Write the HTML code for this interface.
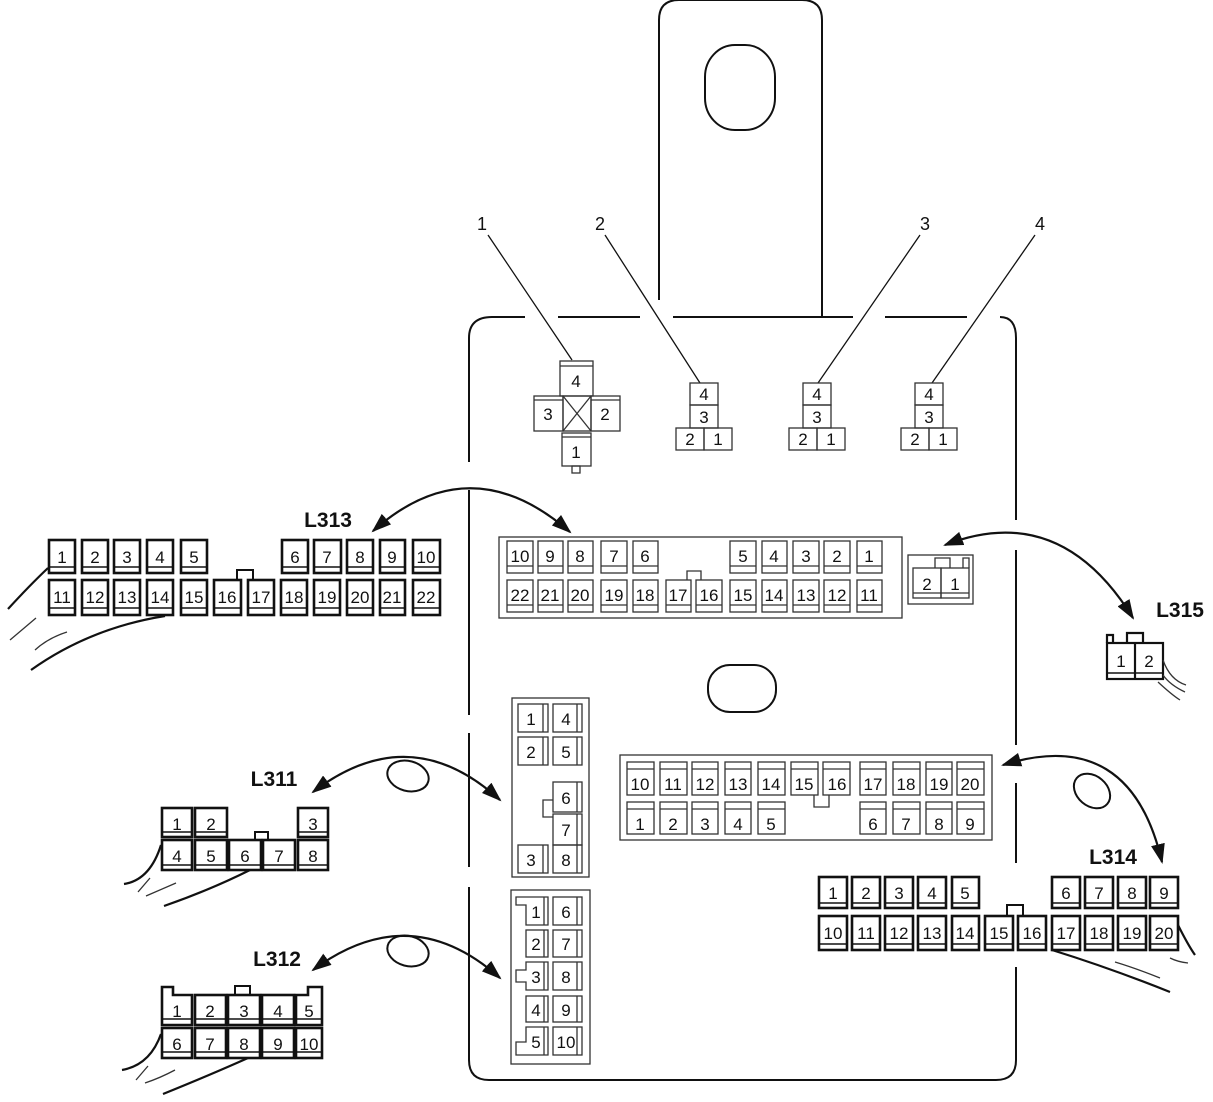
<!DOCTYPE html>
<html><head><meta charset="utf-8"><style>
body{margin:0;background:#fff}
svg{display:block}
text{font-family:"Liberation Sans",sans-serif;font-size:17px;text-anchor:middle;fill:#111}
.t{fill:none;stroke:#333;stroke-width:1.3}
.m{fill:none;stroke:#111;stroke-width:2.6}
.l{fill:none;stroke:#111;stroke-width:1.4}
.w{fill:none;stroke:#111;stroke-width:2.2}
.lb{font-weight:bold;font-size:21px}
</style></head><body>
<svg width="1213" height="1102" viewBox="0 0 1213 1102" xmlns="http://www.w3.org/2000/svg">
<defs><marker id="ah" markerWidth="20" markerHeight="14" refX="18" refY="7" orient="auto-start-reverse" markerUnits="userSpaceOnUse"><path d="M0,0 L20,7 L0,14 Z" fill="#111"/></marker></defs>

<!-- tab -->
<path class="l" d="M659,300 V20 Q659,0 679,0 H802 Q822,0 822,20 V317" style="stroke-width:2"/>
<rect class="l" x="705" y="45" width="70" height="85" rx="30" ry="32" style="stroke-width:2"/>
<!-- board outline -->
<g class="l" style="stroke-width:2">
<path d="M469,462 V338 Q469,317 492,317 H525"/>
<path d="M558,317 H640"/><path d="M673,317 H853"/><path d="M885,317 H967"/>
<path d="M1000,317 Q1016,317 1016,338 V520"/>
<path d="M469,490 V715"/><path d="M469,733 V867"/>
<path d="M469,887 V1060 Q469,1080 489,1080 H996 Q1016,1080 1016,1060 V967"/>
<path d="M1016,550 V745"/><path d="M1016,783 V863"/>
</g>
<rect class="l" x="708" y="665" width="68" height="47" rx="22" ry="22" style="stroke-width:2"/>

<!-- leaders -->
<g class="t" style="stroke:#111">
<line x1="488" y1="235" x2="572" y2="360"/>
<line x1="605" y1="235" x2="700" y2="383"/>
<line x1="920" y1="235" x2="818" y2="383"/>
<line x1="1035" y1="235" x2="932" y2="383"/>
</g>
<text x="482" y="230" style="font-size:18px">1</text>
<text x="600" y="230" style="font-size:18px">2</text>
<text x="925" y="230" style="font-size:18px">3</text>
<text x="1040" y="230" style="font-size:18px">4</text>

<!-- connector 1 -->
<g class="t">
<rect x="560" y="361" width="33" height="35"/><line x1="560" y1="366" x2="593" y2="366"/>
<rect x="534" y="396" width="29" height="35"/><line x1="534" y1="400" x2="563" y2="400"/>
<rect x="591" y="396" width="29" height="35"/><line x1="591" y1="400" x2="620" y2="400"/>
<rect x="563" y="396" width="28" height="35"/><line x1="563" y1="396" x2="591" y2="431"/><line x1="591" y1="396" x2="563" y2="431"/>
<rect x="562" y="433" width="29" height="33"/><line x1="562" y1="437" x2="591" y2="437"/>
<rect x="572" y="466" width="8" height="7"/>
</g>
<text x="576" y="387">4</text><text x="548" y="420">3</text><text x="605" y="420">2</text><text x="576" y="458">1</text>
<!-- connectors 2,3,4 -->
<g class="t">
<rect x="690" y="383" width="28" height="22"/><rect x="690" y="405" width="28" height="23"/><rect x="676" y="428" width="28" height="22"/><rect x="704" y="428" width="28" height="22"/>
<rect x="803" y="383" width="28" height="22"/><rect x="803" y="405" width="28" height="23"/><rect x="789" y="428" width="28" height="22"/><rect x="817" y="428" width="28" height="22"/>
<rect x="915" y="383" width="28" height="22"/><rect x="915" y="405" width="28" height="23"/><rect x="901" y="428" width="28" height="22"/><rect x="929" y="428" width="28" height="22"/>
</g>
<g style="font-size:15px">
<text x="704" y="400">4</text><text x="704" y="423">3</text><text x="690" y="445">2</text><text x="718" y="445">1</text>
<text x="817" y="400">4</text><text x="817" y="423">3</text><text x="803" y="445">2</text><text x="831" y="445">1</text>
<text x="929" y="400">4</text><text x="929" y="423">3</text><text x="915" y="445">2</text><text x="943" y="445">1</text>
</g>

<!-- L313 board -->
<rect class="t" x="499" y="537" width="403" height="81"/>
<g class="t">
<rect x="507" y="541" width="26" height="32"/><rect x="538" y="541" width="25" height="32"/><rect x="568" y="541" width="25" height="32"/><rect x="601" y="541" width="26" height="32"/><rect x="633" y="541" width="25" height="32"/>
<rect x="730" y="541" width="26" height="32"/><rect x="762" y="541" width="25" height="32"/><rect x="793" y="541" width="26" height="32"/><rect x="824" y="541" width="26" height="32"/><rect x="857" y="541" width="25" height="32"/>
<path d="M507,566H533M538,566H563M568,566H593M601,566H627M633,566H658M730,566H756M762,566H787M793,566H819M824,566H850M857,566H882"/>
<rect x="507" y="580" width="26" height="32"/><rect x="538" y="580" width="25" height="32"/><rect x="568" y="580" width="25" height="32"/><rect x="601" y="580" width="26" height="32"/><rect x="633" y="580" width="25" height="32"/><rect x="666" y="580" width="25" height="32"/><rect x="696" y="580" width="26" height="32"/><rect x="730" y="580" width="26" height="32"/><rect x="762" y="580" width="25" height="32"/><rect x="793" y="580" width="26" height="32"/><rect x="824" y="580" width="26" height="32"/><rect x="857" y="580" width="25" height="32"/>
<path d="M507,605H533M538,605H563M568,605H593M601,605H627M633,605H658M666,605H691M696,605H722M730,605H756M762,605H787M793,605H819M824,605H850M857,605H882"/>
<path d="M687,580V571H701V580"/>
</g>
<g>
<text x="520" y="562">10</text><text x="550" y="562">9</text><text x="580" y="562">8</text><text x="614" y="562">7</text><text x="645" y="562">6</text>
<text x="743" y="562">5</text><text x="774" y="562">4</text><text x="806" y="562">3</text><text x="837" y="562">2</text><text x="869" y="562">1</text>
<text x="520" y="601">22</text><text x="550" y="601">21</text><text x="580" y="601">20</text><text x="614" y="601">19</text><text x="645" y="601">18</text><text x="678" y="601">17</text><text x="709" y="601">16</text><text x="743" y="601">15</text><text x="774" y="601">14</text><text x="806" y="601">13</text><text x="837" y="601">12</text><text x="869" y="601">11</text>
</g>

<!-- L313 male -->
<text class="lb" x="328" y="527">L313</text>
<g class="m">
<rect x="49" y="540" width="26" height="33"/><rect x="82" y="540" width="26" height="33"/><rect x="114" y="540" width="26" height="33"/><rect x="147" y="540" width="26" height="33"/><rect x="181" y="540" width="26" height="33"/>
<rect x="282" y="540" width="26" height="33"/><rect x="314" y="540" width="27" height="33"/><rect x="347" y="540" width="26" height="33"/><rect x="380" y="540" width="25" height="33"/><rect x="413" y="540" width="27" height="33"/>
<rect x="49" y="580" width="26" height="35"/><rect x="82" y="580" width="26" height="35"/><rect x="114" y="580" width="26" height="35"/><rect x="147" y="580" width="26" height="35"/><rect x="181" y="580" width="26" height="35"/><rect x="214" y="580" width="27" height="35"/><rect x="248" y="580" width="26" height="35"/><rect x="281" y="580" width="26" height="35"/><rect x="314" y="580" width="26" height="35"/><rect x="347" y="580" width="26" height="35"/><rect x="380" y="580" width="25" height="35"/><rect x="413" y="580" width="27" height="35"/>
<path d="M237,580V570H253V580" style="stroke-width:2"/>
</g>
<path class="l" d="M49,567H75M82,567H108M114,567H140M147,567H173M181,567H207M282,567H308M314,567H341M347,567H373M380,567H405M413,567H440M49,608H75M82,608H108M114,608H140M147,608H173M181,608H207M214,608H241M248,608H274M281,608H307M314,608H340M347,608H373M380,608H405M413,608H440"/>
<g>
<text x="62" y="563">1</text><text x="95" y="563">2</text><text x="127" y="563">3</text><text x="160" y="563">4</text><text x="194" y="563">5</text><text x="295" y="563">6</text><text x="327" y="563">7</text><text x="360" y="563">8</text><text x="392" y="563">9</text><text x="426" y="563">10</text>
<text x="62" y="603">11</text><text x="95" y="603">12</text><text x="127" y="603">13</text><text x="160" y="603">14</text><text x="194" y="603">15</text><text x="227" y="603">16</text><text x="261" y="603">17</text><text x="294" y="603">18</text><text x="327" y="603">19</text><text x="360" y="603">20</text><text x="392" y="603">21</text><text x="426" y="603">22</text>
</g>
<path class="w" d="M48,568 Q30,585 8,609"/>
<path class="t" d="M10,640 L36,618 M35,650 Q48,638 67,632"/>
<path class="w" d="M31,670 Q90,628 165,616"/>
<path class="w" d="M373,531 Q470,445 570,532" marker-start="url(#ah)" marker-end="url(#ah)"/>

<!-- L315 -->
<g class="t">
<rect x="908" y="555" width="65" height="49"/>
<rect x="913" y="568" width="28" height="30"/><rect x="941" y="568" width="28" height="30"/>
<path d="M913,593H969M935,568V558H950V568M963,568V558H969V568"/>
</g>
<text x="927" y="590">2</text><text x="955" y="590">1</text>
<text class="lb" x="1180" y="617">L315</text>
<g class="m" style="stroke-width:2.2">
<rect x="1107" y="643" width="56" height="36"/><line x1="1135" y1="643" x2="1135" y2="679"/>
<path d="M1107,643V635H1113V643M1127,643V633H1143V643"/>
</g>
<path class="l" d="M1107,673H1163"/>
<text x="1121" y="667">1</text><text x="1149" y="667">2</text>
<path class="t" d="M1163,660 Q1170,680 1186,685 M1158,682 Q1172,695 1180,700 M1163,675 Q1170,685 1185,692"/>
<path class="w" d="M945,545 Q1060,500 1133,618" marker-start="url(#ah)" marker-end="url(#ah)"/>

<!-- L311 board -->
<rect class="t" x="512" y="698" width="77" height="179"/>
<g class="t">
<rect x="518" y="704" width="30" height="28"/><rect x="553" y="704" width="29" height="28"/>
<rect x="518" y="737" width="30" height="28"/><rect x="553" y="737" width="29" height="28"/>
<rect x="553" y="782" width="29" height="30"/><rect x="553" y="814" width="29" height="31"/>
<rect x="518" y="845" width="30" height="28"/><rect x="553" y="845" width="29" height="28"/>
<path d="M543,704V732M577,704V732M543,737V765M577,737V765M577,782V812M577,814V845M543,845V873M577,845V873M553,800H543V817H553"/>
</g>
<text x="531" y="725">1</text><text x="566" y="725">4</text><text x="531" y="758">2</text><text x="566" y="758">5</text><text x="566" y="804">6</text><text x="566" y="836">7</text><text x="531" y="866">3</text><text x="566" y="866">8</text>

<!-- L312 board -->
<rect class="t" x="511" y="890" width="79" height="174"/>
<g class="t">
<path d="M526,897H548V925H526V905H516V897Z"/><rect x="553" y="897" width="29" height="28"/>
<rect x="526" y="930" width="22" height="27"/><rect x="553" y="930" width="29" height="27"/>
<path d="M526,962H548V990H526V982H516V970H526Z"/><rect x="553" y="962" width="29" height="28"/>
<rect x="526" y="996" width="22" height="26"/><rect x="553" y="996" width="29" height="26"/>
<path d="M526,1027H548V1055H516V1042H526Z"/><rect x="553" y="1027" width="29" height="28"/>
<path d="M544,897V925M577,897V925M544,930V957M577,930V957M544,962V990M577,962V990M544,996V1022M577,996V1022M544,1027V1055M577,1027V1055"/>
</g>
<text x="536" y="918">1</text><text x="566" y="918">6</text><text x="536" y="950">2</text><text x="566" y="950">7</text><text x="536" y="983">3</text><text x="566" y="983">8</text><text x="536" y="1016">4</text><text x="566" y="1016">9</text><text x="536" y="1048">5</text><text x="566" y="1048">10</text>

<!-- L311 male -->
<text class="lb" x="274" y="786">L311</text>
<g class="m">
<rect x="162" y="808" width="30" height="29"/><rect x="195" y="808" width="32" height="29"/><rect x="298" y="808" width="30" height="29"/>
<rect x="162" y="840" width="30" height="30"/><rect x="195" y="840" width="32" height="30"/><rect x="229" y="840" width="32" height="30"/><rect x="263" y="840" width="32" height="30"/><rect x="298" y="840" width="30" height="30"/>
<path d="M255,840V832H268V840" style="stroke-width:2"/>
</g>
<path class="l" d="M162,832H192M195,832H227M298,832H328M162,865H192M195,865H227M229,865H261M263,865H295M298,865H328"/>
<text x="177" y="830">1</text><text x="211" y="830">2</text><text x="313" y="830">3</text>
<text x="177" y="862">4</text><text x="211" y="862">5</text><text x="245" y="862">6</text><text x="279" y="862">7</text><text x="313" y="862">8</text>
<path class="w" d="M161,845 Q150,880 124,884"/>
<path class="t" d="M138,892 L150,878 M146,896 Q160,890 176,883"/>
<path class="w" d="M164,906 Q210,890 250,870"/>
<ellipse class="w" cx="408" cy="776" rx="21" ry="15" transform="rotate(15 408 776)" style="stroke-width:2"/>
<path class="w" d="M313,792 Q410,718 500,800" marker-start="url(#ah)" marker-end="url(#ah)"/>

<!-- L312 male -->
<text class="lb" x="277" y="966">L312</text>
<g class="m">
<path d="M162,987H173V995H192V1025H162Z"/><rect x="195" y="995" width="31" height="30"/><rect x="228" y="995" width="32" height="30"/><rect x="262" y="995" width="32" height="30"/><path d="M296,1025V995H308V987H322V1025Z"/>
<path d="M235,995V986H250V995" style="stroke-width:2"/>
<rect x="162" y="1028" width="30" height="30"/><rect x="195" y="1028" width="31" height="30"/><rect x="228" y="1028" width="32" height="30"/><rect x="262" y="1028" width="32" height="30"/><rect x="296" y="1028" width="26" height="30"/>
</g>
<path class="l" d="M162,1019H192M195,1019H226M228,1019H260M262,1019H294M296,1019H322M162,1052H192M195,1052H226M228,1052H260M262,1052H294M296,1052H322"/>
<text x="177" y="1017">1</text><text x="210" y="1017">2</text><text x="244" y="1017">3</text><text x="278" y="1017">4</text><text x="309" y="1017">5</text>
<text x="177" y="1050">6</text><text x="210" y="1050">7</text><text x="244" y="1050">8</text><text x="278" y="1050">9</text><text x="309" y="1050">10</text>
<path class="w" d="M161,1034 Q150,1065 122,1070"/>
<path class="t" d="M136,1080 L148,1066 M145,1083 Q160,1078 175,1070"/>
<path class="w" d="M163,1094 Q210,1075 248,1058"/>
<ellipse class="w" cx="408" cy="951" rx="21" ry="15" transform="rotate(15 408 951)" style="stroke-width:2"/>
<path class="w" d="M313,970 Q410,898 500,978" marker-start="url(#ah)" marker-end="url(#ah)"/>

<!-- L314 board -->
<rect class="t" x="620" y="755" width="372" height="85"/>
<g class="t">
<rect x="627" y="762" width="27" height="33"/><rect x="660" y="762" width="27" height="33"/><rect x="692" y="762" width="26" height="33"/><rect x="725" y="762" width="26" height="33"/><rect x="758" y="762" width="27" height="33"/><rect x="791" y="762" width="27" height="33"/><rect x="823" y="762" width="27" height="33"/><rect x="860" y="762" width="26" height="33"/><rect x="893" y="762" width="27" height="33"/><rect x="926" y="762" width="26" height="33"/><rect x="957" y="762" width="27" height="33"/>
<rect x="627" y="802" width="27" height="32"/><rect x="660" y="802" width="27" height="32"/><rect x="692" y="802" width="26" height="32"/><rect x="725" y="802" width="26" height="32"/><rect x="758" y="802" width="27" height="32"/><rect x="860" y="802" width="26" height="32"/><rect x="893" y="802" width="27" height="32"/><rect x="926" y="802" width="26" height="32"/><rect x="957" y="802" width="27" height="32"/>
<path d="M627,769H654M660,769H687M692,769H718M725,769H751M758,769H785M791,769H818M823,769H850M860,769H886M893,769H920M926,769H952M957,769H984M627,809H654M660,809H687M692,809H718M725,809H751M758,809H785M860,809H886M893,809H920M926,809H952M957,809H984"/>
<path d="M814,795V807H829V795"/>
</g>
<text x="640" y="790">10</text><text x="673" y="790">11</text><text x="705" y="790">12</text><text x="738" y="790">13</text><text x="771" y="790">14</text><text x="804" y="790">15</text><text x="837" y="790">16</text><text x="873" y="790">17</text><text x="906" y="790">18</text><text x="939" y="790">19</text><text x="970" y="790">20</text>
<text x="640" y="830">1</text><text x="673" y="830">2</text><text x="705" y="830">3</text><text x="738" y="830">4</text><text x="771" y="830">5</text><text x="873" y="830">6</text><text x="906" y="830">7</text><text x="939" y="830">8</text><text x="970" y="830">9</text>

<!-- L314 male -->
<text class="lb" x="1113" y="864">L314</text>
<g class="m">
<rect x="819" y="877" width="28" height="31"/><rect x="852" y="877" width="28" height="31"/><rect x="885" y="877" width="28" height="31"/><rect x="918" y="877" width="28" height="31"/><rect x="952" y="877" width="27" height="31"/>
<rect x="1052" y="877" width="28" height="31"/><rect x="1085" y="877" width="28" height="31"/><rect x="1118" y="877" width="28" height="31"/><rect x="1150" y="877" width="28" height="31"/>
<rect x="819" y="916" width="28" height="34"/><rect x="852" y="916" width="28" height="34"/><rect x="885" y="916" width="28" height="34"/><rect x="918" y="916" width="28" height="34"/><rect x="952" y="916" width="27" height="34"/><rect x="985" y="916" width="28" height="34"/><rect x="1018" y="916" width="28" height="34"/><rect x="1052" y="916" width="28" height="34"/><rect x="1085" y="916" width="28" height="34"/><rect x="1118" y="916" width="28" height="34"/><rect x="1150" y="916" width="28" height="34"/>
<path d="M1007,916V905H1023V916" style="stroke-width:2"/>
</g>
<path class="l" d="M819,903H847M852,903H880M885,903H913M918,903H946M952,903H979M1052,903H1080M1085,903H1113M1118,903H1146M1150,903H1178M819,944H847M852,944H880M885,944H913M918,944H946M952,944H979M985,944H1013M1018,944H1046M1052,944H1080M1085,944H1113M1118,944H1146M1150,944H1178"/>
<text x="833" y="899">1</text><text x="866" y="899">2</text><text x="899" y="899">3</text><text x="932" y="899">4</text><text x="965" y="899">5</text><text x="1066" y="899">6</text><text x="1099" y="899">7</text><text x="1132" y="899">8</text><text x="1164" y="899">9</text>
<text x="833" y="939">10</text><text x="866" y="939">11</text><text x="899" y="939">12</text><text x="932" y="939">13</text><text x="965" y="939">14</text><text x="999" y="939">15</text><text x="1032" y="939">16</text><text x="1066" y="939">17</text><text x="1099" y="939">18</text><text x="1132" y="939">19</text><text x="1164" y="939">20</text>
<path class="w" d="M1178,925 Q1188,945 1195,955"/>
<path class="t" d="M1115,962 Q1135,968 1160,978 M1170,958 Q1178,962 1188,963"/>
<path class="w" d="M1052,950 Q1110,968 1170,992"/>
<ellipse class="w" cx="1092" cy="791" rx="20" ry="15" transform="rotate(40 1092 791)" style="stroke-width:2"/>
<path class="w" d="M1003,765 Q1130,725 1162,862" marker-start="url(#ah)" marker-end="url(#ah)"/>
</svg>
</body></html>
